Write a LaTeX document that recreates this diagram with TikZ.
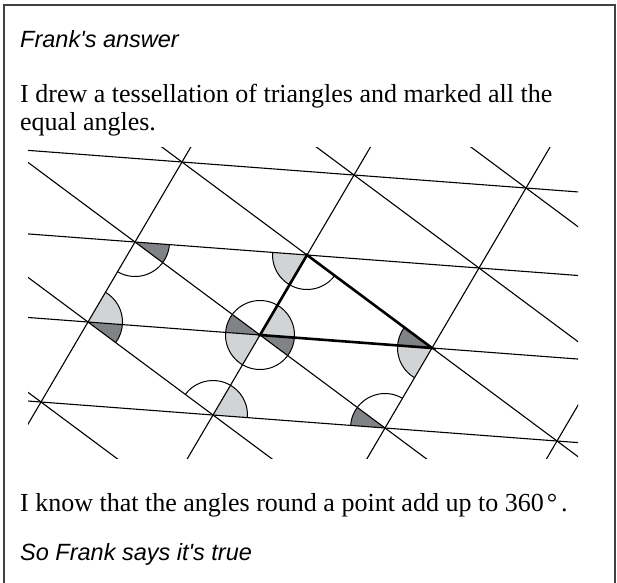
\documentclass[tikz,border=0pt]{standalone}
\usepackage{fontspec}
\setmainfont{Liberation Serif}
\setsansfont{Liberation Sans}
\usetikzlibrary{calc}
\definecolor{shadelight}{RGB}{209,211,212}
\definecolor{shadedark}{RGB}{128,130,133}

\begin{document}
\begin{tikzpicture}[x=1pt, y=-1pt,
    latline/.style={line width=1.1pt},
    light/.style={fill=shadelight},
    dark/.style={fill=shadedark},
    anglearc/.style={line width=1pt},
    frame/.style={line width=1.5pt, draw=black!75},
    serif/.style={font=\fontsize{26}{28}\selectfont, anchor=base west, inner sep=0pt},
    sans/.style={font=\sffamily\itshape\fontsize{23.5}{26}\selectfont, anchor=base west, inner sep=0pt}]
  \useasboundingbox (0,0) rectangle (617,582);
  \draw[frame] (4,590) -- (4,5) -- (615,5) -- (615,590);

  \coordinate (u) at (172,13);
  \coordinate (v) at (47,-80);
  \coordinate (w) at (125,93);
  \coordinate (A) at (260,335);
  \coordinate (B) at ($(A)+(v)$);
  \coordinate (C) at ($(A)+(u)$);
  \coordinate (D) at ($(A)-(u)+(v)$);
  \coordinate (E) at ($(A)-(u)$);
  \coordinate (F) at ($(A)-(v)$);
  \coordinate (G) at ($(C)-(v)$);

  \fill[dark]  (D) -- ++(4.3:34.5) arc[start angle=4.3, end angle=36.7, radius=34.5] -- cycle;
  \fill[light] (B) -- ++(120.4:34.5) arc[start angle=120.4, end angle=184.3, radius=34.5] -- cycle;
  \fill[light] (E) -- ++(-59.6:34.5) arc[start angle=-59.6, end angle=4.3, radius=34.5] -- cycle;
  \fill[dark]  (E) -- ++(4.3:34.5) arc[start angle=4.3, end angle=36.7, radius=34.5] -- cycle;
  \fill[light] (A) -- ++(-59.6:34.5) arc[start angle=-59.6, end angle=4.3, radius=34.5] -- cycle;
  \fill[dark]  (A) -- ++(4.3:34.5) arc[start angle=4.3, end angle=36.7, radius=34.5] -- cycle;
  \fill[light] (A) -- ++(120.4:34.5) arc[start angle=120.4, end angle=184.3, radius=34.5] -- cycle;
  \fill[dark]  (A) -- ++(184.3:34.5) arc[start angle=184.3, end angle=216.7, radius=34.5] -- cycle;
  \fill[light] (C) -- ++(120.4:34.5) arc[start angle=120.4, end angle=184.3, radius=34.5] -- cycle;
  \fill[dark]  (C) -- ++(184.3:34.5) arc[start angle=184.3, end angle=216.7, radius=34.5] -- cycle;
  \fill[light] (F) -- ++(-59.6:34.5) arc[start angle=-59.6, end angle=4.3, radius=34.5] -- cycle;
  \fill[dark]  (G) -- ++(-175.7:34.5) arc[start angle=-175.7, end angle=-143.3, radius=34.5] -- cycle;

  \draw[anglearc] (D) ++(4.3:34.5) arc[start angle=4.3, end angle=120.4, radius=34.5];
  \draw[anglearc] (B) ++(36.7:34.5) arc[start angle=36.7, end angle=184.3, radius=34.5];
  \draw[anglearc] (E) ++(-59.6:34.5) arc[start angle=-59.6, end angle=36.7, radius=34.5];
  \draw[anglearc] (A) circle[radius=34.5];
  \draw[anglearc] (C) ++(120.4:34.5) arc[start angle=120.4, end angle=216.7, radius=34.5];
  \draw[anglearc] (F) ++(-143.3:34.5) arc[start angle=-143.3, end angle=4.3, radius=34.5];
  \draw[anglearc] (G) ++(-175.7:34.5) arc[start angle=-175.7, end angle=-59.6, radius=34.5];

  \begin{scope}
    \clip (28,147) rectangle (578,458);
    \draw[latline] ($(F)-3*(u)$) -- ($(F)+3*(u)$);
    \draw[latline] ($(A)-3*(u)$) -- ($(A)+3*(u)$);
    \draw[latline] ($(B)-3*(u)$) -- ($(B)+3*(u)$);
    \draw[latline] ($(B)+(v)-3*(u)$) -- ($(B)+(v)+3*(u)$);
    \draw[latline] ($(E)-4*(v)$) -- ($(E)+4*(v)$);
    \draw[latline] ($(A)-4*(v)$) -- ($(A)+4*(v)$);
    \draw[latline] ($(C)-4*(v)$) -- ($(C)+4*(v)$);
    \draw[latline] ($(C)+(u)-4*(v)$) -- ($(C)+(u)+4*(v)$);
    \draw[latline] ($(E)-(u)-3*(w)$) -- ($(E)-(u)+3*(w)$);
    \draw[latline] ($(E)-3*(w)$) -- ($(E)+3*(w)$);
    \draw[latline] ($(A)-3*(w)$) -- ($(A)+3*(w)$);
    \draw[latline] ($(C)-3*(w)$) -- ($(C)+3*(w)$);
    \draw[latline] ($(C)+(u)-3*(w)$) -- ($(C)+(u)+3*(w)$);
    \draw[latline] ($(C)+2*(u)-3*(w)$) -- ($(C)+2*(u)+3*(w)$);
  \end{scope}

  \draw[line width=2.6pt] (A) -- (B) -- (C) -- cycle;

  \node[sans]  (title)   at (20,47)  {Frank\textquotesingle s answer};
  \node[serif] (drew)    at (20,102) {I drew a tessellation of triangles and marked all the};
  \node[serif] (equal)   at (20,130) {equal angles.};
  \node[serif] (fact)    at (20,511) {I know that the angles round a point add up to 360\kern3pt\textdegree\kern4pt.};
  \node[sans]  (verdict) at (20,560) {So Frank says it\textquotesingle s true};
\end{tikzpicture}
\end{document}
